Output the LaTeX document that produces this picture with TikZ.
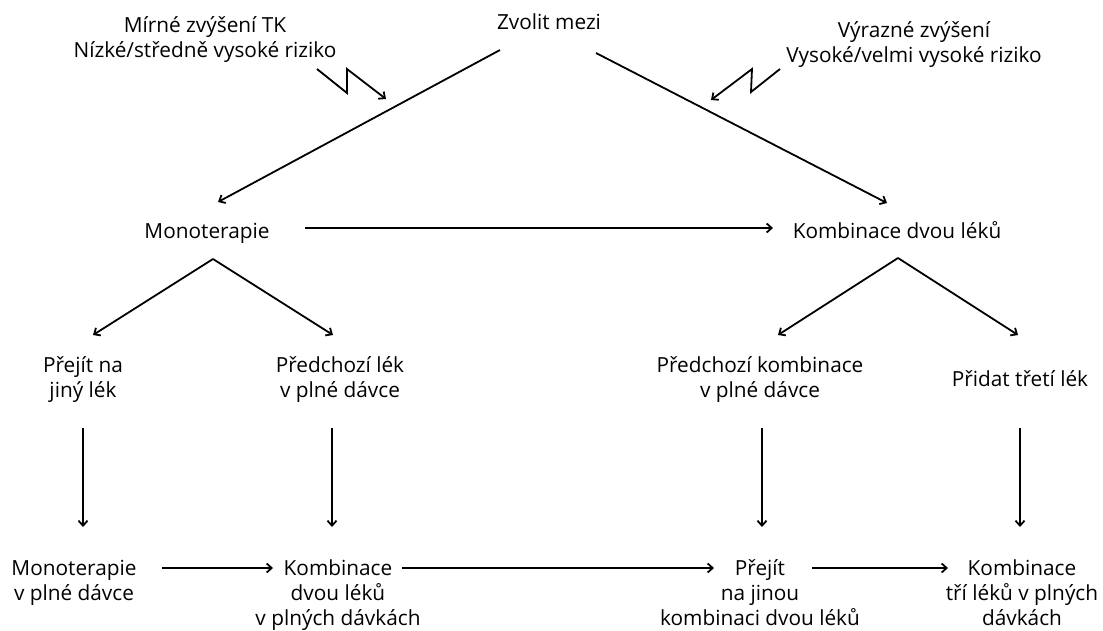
\documentclass[tikz,border=0pt]{standalone}
\usepackage{fontspec}
\setmainfont{Open Sans}
\usetikzlibrary{positioning, arrows.meta}

\begin{document}
\begin{tikzpicture}[
  x=1pt, y=-1pt,
  font=\fontsize{20.8}{25}\selectfont,
  lbl/.style={align=center, anchor=base, inner sep=0pt},
  arr/.style={-{Straight Barb[length=5pt, width=9pt]}, line width=1.8pt},
]
\useasboundingbox (0,0) rectangle (1103,630);

% Row 0: choice and risk labels
\node[lbl] (zvolit)  at (549,29) {Zvolit mezi};
\node[lbl] (mirne)   at (205,57) {Mírné zvýšení TK\\Nízké/středně vysoké riziko};
\node[lbl] (vyrazne) at (914,62) {Výrazné zvýšení\\Vysoké/velmi vysoké riziko};

% Row 1: starting therapy
\node[lbl] (mono) at (207,238) {Monoterapie};
\node[lbl] (komb) at (897,238) {Kombinace dvou léků};

% Row 2: next steps
\node[lbl] (jiny)     at (83,397)   {Přejít na\\jiný lék};
\node[lbl] (predlek)  at (340,397)  {Předchozí lék\\v plné dávce};
\node[lbl] (predkomb) at (760,397)  {Předchozí kombinace\\v plné dávce};
\node[lbl] (treti)    at (1020,386) {Přidat třetí lék};

% Row 3: final steps
\node[lbl] (monoplna) at (74,600)   {Monoterapie\\v plné dávce};
\node[lbl] (dvaplne)  at (338,625)  {Kombinace\\dvou léků\\v plných dávkách};
\node[lbl] (jinakomb) at (760,625)  {Přejít\\na jinou\\kombinaci dvou léků};
\node[lbl] (triplne)  at (1022,625) {Kombinace\\tří léků v plných\\dávkách};

% connectors
\draw[arr] ([shift={(-49,21)}]zvolit.base) -- ([shift={(11,-36)}]mono.base);
\draw[arr] ([shift={(47,24)}]zvolit.base) -- ([shift={(-10,-35)}]komb.base);
\draw[arr] ([shift={(112,12)}]mirne.base) -- ++(30,24) -- ++(0,-24) -- ++(39,30);
\draw[arr] ([shift={(-134,7)}]vyrazne.base) -- ++(-29,23) -- ++(1,-23) -- ++(-41,31);
\draw[arr] ([shift={(98,-10)}]mono.base) -- ([shift={(-124,-10)}]komb.base);

\draw[arr] ([shift={(6,21)}]mono.base) -- ([shift={(10,-62)}]jiny.base);
\draw[arr] ([shift={(6,21)}]mono.base) -- ([shift={(-7,-62)}]predlek.base);
\draw[arr] ([shift={(1,20)}]komb.base) -- ([shift={(18,-62)}]predkomb.base);
\draw[arr] ([shift={(1,20)}]komb.base) -- ([shift={(-2,-51)}]treti.base);

\draw[arr] ([shift={(0,31)}]jiny.base) -- ([shift={(9,-73)}]monoplna.base);
\draw[arr] ([shift={(-8,31)}]predlek.base) -- ([shift={(-6,-98)}]dvaplne.base);
\draw[arr] ([shift={(2,31)}]predkomb.base) -- ([shift={(2,-98)}]jinakomb.base);
\draw[arr] ([shift={(0,42)}]treti.base) -- ([shift={(-2,-98)}]triplne.base);

\draw[arr] ([shift={(88,-32)}]monoplna.base) -- ([shift={(-65,-57)}]dvaplne.base);
\draw[arr] ([shift={(64,-57)}]dvaplne.base) -- ([shift={(-46,-57)}]jinakomb.base);
\draw[arr] ([shift={(52,-57)}]jinakomb.base) -- ([shift={(-74,-57)}]triplne.base);
\end{tikzpicture}
\end{document}
